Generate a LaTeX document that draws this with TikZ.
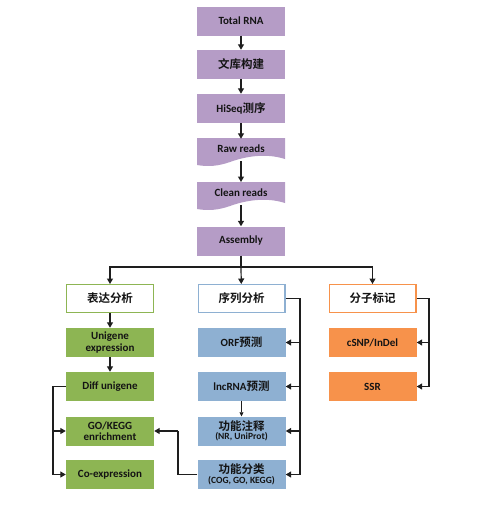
\documentclass[tikz,border=0pt]{standalone}
\usepackage{fontspec}
\setmainfont{Carlito}
\newfontfamily\cjk{Noto Sans CJK SC}[BoldFont={Noto Sans CJK SC Bold}]
\usetikzlibrary{arrows.meta}
\definecolor{purp}{HTML}{B59CC6}
\definecolor{grn}{HTML}{8DB553}
\definecolor{blu}{HTML}{8EB0D2}
\definecolor{orn}{HTML}{F7924B}
\definecolor{txt}{HTML}{141414}
\definecolor{ln}{HTML}{1E1E1E}
\newcommand{\zh}[1]{{\cjk\bfseries\fontsize{11.5}{13}\selectfont #1}}
\begin{document}
\begin{tikzpicture}[x=1pt,y=-1pt,
  box/.style={rectangle,minimum width=88pt,minimum height=29pt,inner sep=1pt,
    font=\fontsize{11}{11.5}\selectfont\bfseries,text=txt,align=center},
  pbox/.style={box,fill=purp},
  gbox/.style={box,fill=grn},
  bbox/.style={box,fill=blu},
  obox/.style={box,fill=orn},
  hbox/.style={box,fill=white,draw=#1,line width=1.2pt,minimum width=86.8pt,minimum height=27.8pt},
  conn/.style={draw=ln,line width=1.2pt},
  arr/.style={conn,-{Triangle[length=5.5pt,width=6pt]}}
]
\useasboundingbox (0,0) rectangle (477,507);
% top column
\node[pbox] (total) at (241,21) {Total RNA};
\node[pbox] (lib) at (241,64.5) {\zh{文库构建}};
\node[pbox] (hiseq) at (241,108.5) {HiSeq\zh{测序}};
% wavy document shapes
\fill[purp] (197,138) -- (285,138) -- (285,159)
  .. controls (263,152) and (241,158) .. (230,162)
  .. controls (219,166) and (208,167) .. (197,165) -- cycle;
\fill[purp] (197,182) -- (285,182) -- (285,203)
  .. controls (263,196) and (241,202) .. (230,206)
  .. controls (219,210) and (208,211) .. (197,209) -- cycle;
\node[box,minimum height=20pt] (raw) at (241,149) {Raw reads};
\node[box,minimum height=20pt] (clean) at (241,193) {Clean reads};
\coordinate (rawb) at (241,161);
\coordinate (cleanb) at (241,205);
\coordinate (cleant) at (241,182);
\node[pbox] (asm) at (241,241) {Assembly};

\draw[arr] (total) -- (lib);
\draw[arr] (lib) -- (hiseq);
\draw[arr] (hiseq) -- (raw);
\draw[arr] (rawb) -- (cleant);
\draw[arr] (cleanb) -- (asm);

% headers
\node[hbox=grn] (expr) at (110,298.5) {\zh{表达分析}};
\node[hbox=blu] (seq) at (241.5,298.5) {\zh{序列分析}};
\node[hbox=orn] (mol) at (372.5,298.5) {\zh{分子标记}};

\coordinate (split) at (241,267);
\draw[conn] (asm) -- (split);
\draw[arr] (split) -| (expr);
\draw[arr] (split) -| (mol);
\draw[arr] (split) -- (seq);

% left column
\node[gbox] (unig) at (110,342.5) {Unigene\\expression};
\node[gbox] (diff) at (110,386.5) {Diff unigene};
\node[gbox] (gok) at (110,431) {GO/KEGG\\enrichment};
\node[gbox] (coex) at (110,474.5) {Co-expression};
\draw[arr] (expr) -- (unig);
\draw[arr] (unig) -- (diff);
\coordinate (lbus) at (53,386.5);
\draw[conn] (diff.west) -- (lbus) -- (lbus |- coex.west);
\draw[arr] (lbus |- gok.west) -- (gok.west);
\draw[arr] (lbus |- coex.west) -- (coex.west);

% middle column
\node[bbox] (orf) at (241.5,342.5) {ORF\zh{预测}};
\node[bbox] (lnc) at (241.5,386.5) {lncRNA\zh{预测}};
\node[bbox] (anno) at (241.5,431) {\zh{功能注释}\\[-2pt]{\fontsize{9.5}{10}\selectfont (NR, UniProt)}};
\node[bbox] (cls) at (241.5,474.5) {\zh{功能分类}\\[-2pt]{\fontsize{9.5}{10}\selectfont (COG, GO, KEGG)}};
\coordinate (mbus) at (300,298.5);
\draw[conn] (seq.east) -- (mbus) -- (mbus |- cls.east);
\draw[arr] (mbus |- orf.east) -- (orf.east);
\draw[arr] (mbus |- lnc.east) -- (lnc.east);
\draw[arr] (mbus |- anno.east) -- (anno.east);
\draw[arr] (mbus |- cls.east) -- (cls.east);
\draw[draw=ln,line width=0.7pt,-{Triangle[length=4pt,width=4pt]}] (lnc.south) -- (anno.north);
\coordinate (cbus) at (178,474.5);
\draw[conn] (cls.west) -- (cbus) -- (cbus |- gok.east);
\draw[arr] (cbus |- gok.east) -- (gok.east);

% right column
\node[obox] (csnp) at (372.5,342.5) {cSNP/InDel};
\node[obox] (ssr) at (372.5,386.5) {SSR};
\coordinate (rbus) at (429,298.5);
\draw[conn] (mol.east) -- (rbus) -- (rbus |- ssr.east);
\draw[arr] (rbus |- csnp.east) -- (csnp.east);
\draw[arr] (rbus |- ssr.east) -- (ssr.east);
\end{tikzpicture}
\end{document}
